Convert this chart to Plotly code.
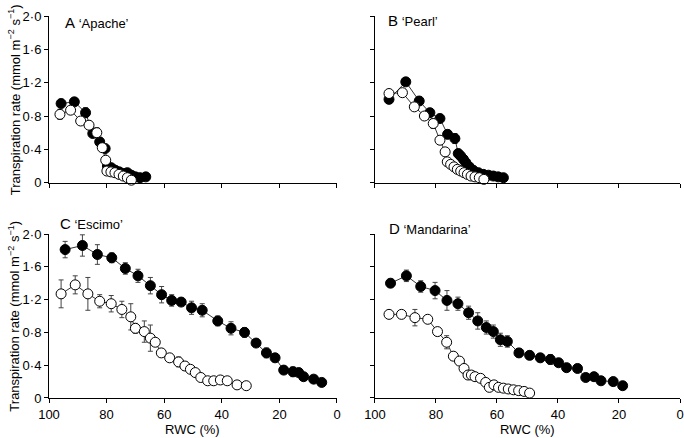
import plotly.graph_objects as go

# ---------------- data ----------------
# Panel A 'Apache'
rwc_A_well = [95.8, 91.2, 87.3, 84.8, 82.4, 80.5, 79.7, 78.4, 77.0, 75.6, 74.2, 72.8, 71.4, 70.0, 68.4, 66.4]
tr_A_well = [0.95, 0.97, 0.84, 0.59, 0.49, 0.41, 0.20, 0.18, 0.15, 0.13, 0.11, 0.12, 0.09, 0.07, 0.06, 0.07]
err_A_well = [0.05, 0.03, 0.06, 0.04, 0.03, 0.03, 0.02, 0.02, 0.02, 0.02, 0.02, 0.02, 0.02, 0.01, 0.01, 0.01]
rwc_A_open = [96.2, 92.5, 89.0, 86.1, 83.4, 81.5, 80.3, 79.9, 78.5, 77.1, 75.7, 74.2, 72.8, 71.4]
tr_A_open = [0.82, 0.87, 0.74, 0.69, 0.60, 0.42, 0.27, 0.14, 0.13, 0.12, 0.10, 0.08, 0.06, 0.03]
err_A_open = [0.06, 0.03, 0.04, 0.03, 0.06, 0.03, 0.02, 0.02, 0.02, 0.02, 0.02, 0.02, 0.02, 0.01]

# Panel B 'Pearl'
rwc_B_well = [95.4, 89.9, 85.5, 82.0, 78.7, 76.2, 73.8, 72.7, 71.9, 71.0, 70.2, 69.1, 67.8, 66.1, 64.5, 62.8, 61.2, 59.6, 57.9]
tr_B_well = [1.00, 1.21, 0.98, 0.84, 0.77, 0.58, 0.53, 0.35, 0.32, 0.28, 0.24, 0.19, 0.15, 0.12, 0.10, 0.09, 0.08, 0.07, 0.06]
err_B_well = [0.05, 0.03, 0.05, 0.03, 0.05, 0.05, 0.06, 0.02, 0.02, 0.02, 0.02, 0.02, 0.01, 0.01, 0.01, 0.01, 0.01, 0.01, 0.01]
rwc_B_open = [95.4, 91.0, 87.1, 83.8, 80.9, 78.7, 77.0, 76.3, 75.2, 74.1, 73.0, 71.9, 70.8, 69.7, 68.5, 67.2, 65.8, 64.3]
tr_B_open = [1.07, 1.08, 0.91, 0.80, 0.71, 0.51, 0.37, 0.25, 0.22, 0.19, 0.16, 0.14, 0.12, 0.10, 0.08, 0.07, 0.06, 0.04]
err_B_open = [0.03, 0.02, 0.04, 0.03, 0.06, 0.03, 0.02, 0.02, 0.02, 0.01, 0.01, 0.01, 0.01, 0.01, 0.01, 0.01, 0.01, 0.01]

# Panel C 'Escimo'
rwc_C_well = [94.4, 88.4, 83.2, 78.2, 73.5, 69.1, 64.8, 60.9, 57.4, 54.1, 50.5, 46.8, 41.4, 36.8, 32.1, 28.1, 24.5, 21.5, 18.5, 15.3, 13.3, 11.6, 8.1, 5.3]
tr_C_well = [1.81, 1.86, 1.75, 1.71, 1.58, 1.49, 1.37, 1.26, 1.19, 1.17, 1.10, 1.07, 0.94, 0.85, 0.80, 0.67, 0.55, 0.49, 0.34, 0.32, 0.31, 0.26, 0.23, 0.19]
err_C_well = [0.10, 0.13, 0.12, 0.06, 0.07, 0.08, 0.10, 0.10, 0.07, 0.02, 0.08, 0.08, 0.06, 0.08, 0.06, 0.02, 0.06, 0.05, 0.02, 0.06, 0.01, 0.01, 0.01, 0.01]
rwc_C_open = [95.8, 90.9, 86.5, 82.4, 78.4, 74.7, 71.6, 70.0, 66.9, 64.8, 63.1, 61.0, 58.1, 55.0, 52.8, 50.9, 49.2, 47.3, 44.9, 42.8, 40.5, 38.1, 34.7, 31.5]
tr_C_open = [1.27, 1.38, 1.27, 1.18, 1.15, 1.08, 0.99, 0.85, 0.81, 0.73, 0.68, 0.55, 0.49, 0.44, 0.39, 0.35, 0.31, 0.25, 0.21, 0.21, 0.22, 0.21, 0.16, 0.15]
err_C_open = [0.17, 0.11, 0.20, 0.08, 0.10, 0.10, 0.16, 0.06, 0.13, 0.16, 0.02, 0.05, 0.02, 0.06, 0.05, 0.02, 0.02, 0.01, 0.01, 0.01, 0.01, 0.01, 0.01, 0.01]

# Panel D 'Mandarina'
rwc_D_well = [94.9, 89.7, 85.0, 80.3, 76.4, 72.8, 69.3, 66.3, 63.5, 61.2, 58.9, 56.6, 52.8, 49.3, 45.8, 42.5, 39.8, 37.2, 33.6, 30.9, 28.2, 25.9, 21.9, 18.8]
tr_D_well = [1.40, 1.49, 1.36, 1.31, 1.19, 1.15, 1.04, 0.94, 0.86, 0.81, 0.71, 0.69, 0.55, 0.52, 0.49, 0.47, 0.43, 0.37, 0.36, 0.25, 0.26, 0.21, 0.20, 0.15]
err_D_well = [0.05, 0.07, 0.07, 0.10, 0.12, 0.08, 0.08, 0.10, 0.08, 0.08, 0.08, 0.07, 0.05, 0.05, 0.05, 0.06, 0.02, 0.02, 0.02, 0.01, 0.01, 0.01, 0.01, 0.01]
rwc_D_open = [95.4, 91.3, 86.9, 82.7, 79.5, 76.5, 74.3, 72.3, 70.8, 69.5, 68.4, 67.2, 65.4, 63.7, 62.5, 61.0, 59.5, 57.9, 56.3, 54.6, 52.9, 51.1, 49.3]
tr_D_open = [1.02, 1.02, 0.98, 0.96, 0.81, 0.68, 0.51, 0.45, 0.36, 0.28, 0.28, 0.26, 0.24, 0.19, 0.13, 0.16, 0.13, 0.12, 0.11, 0.10, 0.09, 0.08, 0.06]
err_D_open = [0.04, 0.04, 0.10, 0.04, 0.05, 0.08, 0.05, 0.03, 0.02, 0.02, 0.01, 0.01, 0.01, 0.01, 0.01, 0.01, 0.01, 0.01, 0.01, 0.01, 0.01, 0.01, 0.01]

panel_letters = ["A", "B", "C", "D"]
panel_names = ["\u2018Apache\u2019", "\u2018Pearl\u2019", "\u2018Escimo\u2019", "\u2018Mandarina\u2019"]
x_ticks = [100, 80, 60, 40, 20, 0]
y_ticks = [0, 0.4, 0.8, 1.2, 1.6, 2.0]
y_tick_text = ["0", "0\u00b74", "0\u00b78", "1\u00b72", "1\u00b76", "2\u00b70"]
x_title = "RWC (%)"
y_title = "Transpiration rate (mmol m<sup>\u22122</sup> s<sup>\u22121</sup>)"

# ---------------- figure ----------------
FONT = "Liberation Sans, Arial, Helvetica, sans-serif"
fig = go.Figure()

panels = [
    (rwc_A_well, tr_A_well, err_A_well, rwc_A_open, tr_A_open, err_A_open),
    (rwc_B_well, tr_B_well, err_B_well, rwc_B_open, tr_B_open, err_B_open),
    (rwc_C_well, tr_C_well, err_C_well, rwc_C_open, tr_C_open, err_C_open),
    (rwc_D_well, tr_D_well, err_D_well, rwc_D_open, tr_D_open, err_D_open),
]

def add_series(x, y, e, fill, idx):
    sfx = "" if idx == 1 else str(idx)
    fig.add_trace(go.Scatter(
        x=x, y=y, mode="lines+markers",
        xaxis="x" + sfx, yaxis="y" + sfx,
        line=dict(color="black", width=0.8),
        marker=dict(symbol="circle", size=10, color=fill,
                    line=dict(color="black", width=1)),
        error_y=dict(type="data", array=e, visible=True,
                     color="#444444", thickness=1, width=2.5),
        cliponaxis=False, showlegend=False,
    ))

for i, (xw, yw, ew, xo, yo, eo) in enumerate(panels):
    idx = i + 1
    add_series(xw, yw, ew, "black", idx)
    add_series(xo, yo, eo, "white", idx)

# layout geometry
xdom_left = [0.0, 0.4564]
xdom_right = [0.5166, 1.0]
ydom_top = [0.5636, 1.0]
ydom_bot = [0.0, 0.4293]

def xaxis(dom, anchor, show_labels):
    return dict(domain=dom, anchor=anchor, range=[100, 0],
                tickvals=x_ticks, showticklabels=show_labels,
                ticks="outside", ticklen=4, tickwidth=1, tickcolor="black",
                showline=True, linecolor="black", linewidth=1,
                showgrid=False, zeroline=False, automargin=False,
                tickfont=dict(family=FONT, size=13, color="black"))

def yaxis(dom, anchor, show_labels):
    return dict(domain=dom, anchor=anchor, range=[0, 2.0],
                tickvals=y_ticks, ticktext=y_tick_text, showticklabels=show_labels,
                ticks="outside", ticklen=4, tickwidth=1, tickcolor="black",
                showline=True, linecolor="black", linewidth=1,
                showgrid=False, zeroline=False, automargin=False,
                tickfont=dict(family=FONT, size=13, color="black"))

fig.update_layout(
    width=684, height=438,
    margin=dict(l=49, r=4, t=16, b=40, autoexpand=False),
    paper_bgcolor="white", plot_bgcolor="white",
    font=dict(family=FONT, size=13, color="black"),
    xaxis=xaxis(xdom_left, "y", False),
    yaxis=yaxis(ydom_top, "x", True),
    xaxis2=xaxis(xdom_right, "y2", False),
    yaxis2=yaxis(ydom_top, "x2", False),
    xaxis3=xaxis(xdom_left, "y3", True),
    yaxis3=yaxis(ydom_bot, "x3", True),
    xaxis4=xaxis(xdom_right, "y4", True),
    yaxis4=yaxis(ydom_bot, "x4", False),
)

annots = []
label_pos = [(0.0222, 0.9825), (0.5336, 0.9877), (0.0138, 0.4573), (0.5352, 0.4442)]
for (lx, ly), letter, name in zip(label_pos, panel_letters, panel_names):
    annots.append(dict(
        xref="paper", yref="paper", x=lx, y=ly, xanchor="left", yanchor="middle",
        showarrow=False,
        text=f"<span style='font-size:15px'>{letter}</span> {name}",
        font=dict(family=FONT, size=13, color="black"),
    ))
for yc in [0.7814, 0.2147]:
    annots.append(dict(
        xref="paper", yref="paper", x=-0.056, y=yc, xanchor="center", yanchor="middle",
        showarrow=False, textangle=-90, text=y_title,
        font=dict(family=FONT, size=13, color="black"),
    ))
for xc in [0.2282, 0.7583]:
    annots.append(dict(
        xref="paper", yref="paper", x=xc, y=-0.083, xanchor="center", yanchor="middle",
        showarrow=False, text=x_title,
        font=dict(family=FONT, size=13, color="black"),
    ))
fig.update_layout(annotations=annots)

fig.write_html(
    "out.html",
    config={"displayModeBar": False},
    post_script="document.body.style.margin='0';document.body.style.overflow='hidden';",
)
